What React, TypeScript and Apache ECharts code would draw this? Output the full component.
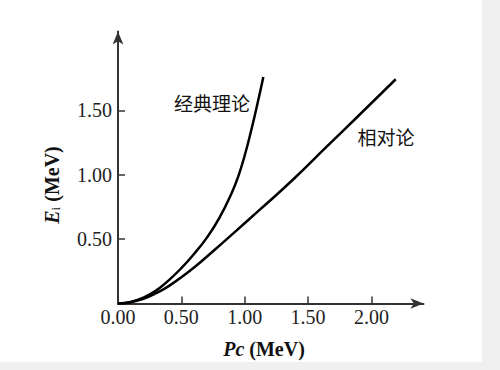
import React, { useEffect, useRef } from "react";
import * as echarts from "echarts";

// Classical theory curve: Pc (MeV) vs E (MeV)
const pcClassical = [0, 0.1, 0.2, 0.3, 0.4, 0.5, 0.6, 0.7, 0.8, 0.9, 0.95, 1.0, 1.05, 1.1, 1.147];
const eClassical = [0, 0.012, 0.045, 0.1, 0.18, 0.275, 0.385, 0.51, 0.665, 0.865, 0.99, 1.15, 1.34, 1.55, 1.76];

// Relativistic curve
const pcRelativistic = [0, 0.1, 0.2, 0.3, 0.4, 0.555, 0.673, 0.83, 0.91, 1.115, 1.384, 1.647, 1.884, 2.192];
const eRelativistic = [0, 0.01, 0.037, 0.08, 0.135, 0.245, 0.34, 0.475, 0.545, 0.725, 0.965, 1.218, 1.445, 1.742];

const xTicks = [0, 0.5, 1.0, 1.5, 2.0];
const yTicks = [0.5, 1.0, 1.5];

const labelClassical = "经典理论";
const labelRelativistic = "相对论";

const SERIF = '"Liberation Serif", "Times New Roman", "DejaVu Serif", serif';
const CJK = '"Noto Sans CJK SC", "Noto Sans", sans-serif';

export default function App() {
  const ref = useRef<HTMLDivElement>(null);

  useEffect(() => {
    if (!ref.current) return;
    const chart = echarts.init(ref.current, null, { renderer: "svg" });
    const axisColor = "#333";
    const option = {
      animation: false,
      backgroundColor: "#ffffff",
      grid: { left: 118, right: 58.5, top: 31.5, bottom: 58.5, containLabel: false },
      xAxis: {
        type: "value",
        min: 0,
        max: 2.411,
        splitLine: { show: false },
        axisLine: {
          show: true,
          symbol: ["none", "arrow"],
          symbolSize: [8, 13],
          lineStyle: { color: axisColor, width: 2 },
        },
        axisTick: {
          show: true,
          inside: true,
          length: 7,
          customValues: xTicks,
          lineStyle: { color: axisColor, width: 1.5 },
        },
        axisLabel: {
          customValues: xTicks,
          formatter: (v: number) => v.toFixed(2),
          fontFamily: SERIF,
          fontSize: 20,
          color: "#222",
          margin: 3,
        },
      },
      yAxis: {
        type: "value",
        min: 0,
        max: 2.113,
        splitLine: { show: false },
        axisLine: {
          show: true,
          symbol: ["none", "arrow"],
          symbolSize: [8, 13],
          lineStyle: { color: axisColor, width: 2 },
        },
        axisTick: {
          show: true,
          inside: true,
          length: 7,
          customValues: yTicks,
          lineStyle: { color: axisColor, width: 1.5 },
        },
        axisLabel: {
          customValues: yTicks,
          formatter: (v: number) => v.toFixed(2),
          fontFamily: SERIF,
          fontSize: 20,
          color: "#222",
          margin: 6,
        },
      },
      series: [
        {
          type: "line",
          name: labelClassical,
          data: pcClassical.map((p, i) => [p, eClassical[i]]),
          smooth: 0.5,
          showSymbol: false,
          lineStyle: { color: "#000", width: 2.5 },
        },
        {
          type: "line",
          name: labelRelativistic,
          data: pcRelativistic.map((p, i) => [p, eRelativistic[i]]),
          smooth: 0.5,
          showSymbol: false,
          lineStyle: { color: "#000", width: 2.5 },
        },
      ],
      graphic: [
        {
          type: "text",
          x: 212,
          y: 102,
          style: {
            text: labelClassical,
            font: `19px ${CJK}`,
            fill: "#111",
            align: "center",
            verticalAlign: "middle",
          },
        },
        {
          type: "text",
          x: 386,
          y: 136,
          style: {
            text: labelRelativistic,
            font: `19px ${CJK}`,
            fill: "#111",
            align: "center",
            verticalAlign: "middle",
          },
        },
        {
          type: "text",
          x: 264,
          y: 349,
          style: {
            text: "{i|Pc}{n| (MeV)}",
            align: "center",
            verticalAlign: "middle",
            rich: {
              i: { fontFamily: SERIF, fontSize: 20, fontStyle: "italic", fontWeight: "bold", fill: "#111" },
              n: { fontFamily: SERIF, fontSize: 20, fontWeight: "bold", fill: "#111" },
            },
          },
        },
        {
          type: "text",
          x: 52,
          y: 185,
          rotation: Math.PI / 2,
          style: {
            text: "{i|E}{s|i}{n| (MeV)}",
            align: "center",
            verticalAlign: "middle",
            rich: {
              i: { fontFamily: SERIF, fontSize: 20, fontStyle: "italic", fontWeight: "bold", fill: "#111" },
              s: { fontFamily: SERIF, fontSize: 13, fill: "#111", verticalAlign: "bottom" },
              n: { fontFamily: SERIF, fontSize: 20, fontWeight: "bold", fill: "#111" },
            },
          },
        },
      ],
    };
    chart.setOption(option as any);
    return () => chart.dispose();
  }, []);

  return (
    <div
      style={{
        position: "absolute",
        left: 0,
        top: 0,
        width: 500,
        height: 370,
        background: "#f0f0f0",
      }}
    >
      <div ref={ref} style={{ width: 482, height: 362 }} />
    </div>
  );
}
